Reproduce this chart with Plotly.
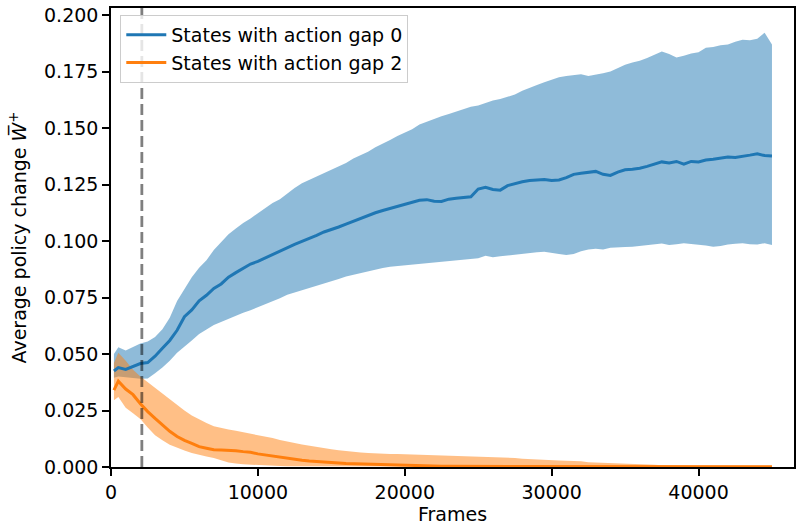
import plotly.graph_objects as go

# frames sampled along the x axis
frames = [200, 500] + list(range(1000, 45001, 500))

# states with action gap 0 (blue)
gap0_mean = [
    0.0425, 0.0440, 0.0432, 0.0445, 0.0458, 0.0462, 0.0490, 0.0525, 0.0560, 0.0605,
    0.0665, 0.0695, 0.0735, 0.0760, 0.0790, 0.0810, 0.0840, 0.0860, 0.0880, 0.0898,
    0.0910, 0.0925, 0.0940, 0.0958, 0.0972, 0.0985, 0.0998, 0.1010, 0.1025, 0.1040,
    0.1050, 0.1062, 0.1075, 0.1088, 0.1100, 0.1112, 0.1125, 0.1135, 0.1144, 0.1155,
    0.1165, 0.1172, 0.1180, 0.1183, 0.1176, 0.1175, 0.1185, 0.1189, 0.1192, 0.1196,
    0.1230, 0.1238, 0.1228, 0.1225, 0.1245, 0.1255, 0.1262, 0.1268, 0.1270, 0.1272,
    0.1268, 0.1270, 0.1280, 0.1295, 0.1300, 0.1303, 0.1308, 0.1295, 0.1290, 0.1305,
    0.1315, 0.1318, 0.1322, 0.1330, 0.1340, 0.1350, 0.1345, 0.1352, 0.1340, 0.1352,
    0.1350, 0.1358, 0.1362, 0.1368, 0.1372, 0.1370, 0.1374, 0.1380, 0.1386, 0.1378,
    0.1376,
]
gap0_upper = [
    0.0500, 0.0530, 0.0515, 0.0530, 0.0546, 0.0555, 0.0575, 0.0610, 0.0660, 0.0735,
    0.0790, 0.0840, 0.0882, 0.0915, 0.0960, 0.0995, 0.1030, 0.1055, 0.1080, 0.1100,
    0.1122, 0.1145, 0.1168, 0.1185, 0.1210, 0.1235, 0.1255, 0.1270, 0.1285, 0.1300,
    0.1315, 0.1330, 0.1345, 0.1365, 0.1380, 0.1395, 0.1415, 0.1430, 0.1447, 0.1465,
    0.1480, 0.1495, 0.1515, 0.1528, 0.1540, 0.1552, 0.1562, 0.1572, 0.1585, 0.1594,
    0.1600, 0.1610, 0.1622, 0.1628, 0.1638, 0.1648, 0.1665, 0.1676, 0.1690, 0.1702,
    0.1712, 0.1725, 0.1730, 0.1735, 0.1738, 0.1730, 0.1735, 0.1742, 0.1750, 0.1765,
    0.1780, 0.1790, 0.1798, 0.1810, 0.1825, 0.1838, 0.1828, 0.1812, 0.1820, 0.1830,
    0.1835, 0.1855, 0.1858, 0.1866, 0.1870, 0.1882, 0.1890, 0.1888, 0.1895, 0.1922,
    0.1870,
]
gap0_lower = [
    0.0395, 0.0400, 0.0399, 0.0395, 0.0391, 0.0392, 0.0415, 0.0440, 0.0470, 0.0505,
    0.0533, 0.0560, 0.0588, 0.0608, 0.0628, 0.0642, 0.0656, 0.0668, 0.0682, 0.0694,
    0.0708, 0.0720, 0.0733, 0.0747, 0.0762, 0.0775, 0.0785, 0.0795, 0.0803, 0.0812,
    0.0822, 0.0832, 0.0843, 0.0853, 0.0860, 0.0867, 0.0873, 0.0880, 0.0886, 0.0890,
    0.0893, 0.0897, 0.0900, 0.0903, 0.0906, 0.0908, 0.0912, 0.0915, 0.0918, 0.0921,
    0.0924, 0.0935, 0.0928, 0.0932, 0.0936, 0.0940, 0.0944, 0.0947, 0.0950, 0.0952,
    0.0946, 0.0942, 0.0938, 0.0942, 0.0955, 0.0962, 0.0966, 0.0962, 0.0970, 0.0972,
    0.0974, 0.0975, 0.0978, 0.0982, 0.0985, 0.0989, 0.0982, 0.0986, 0.0990, 0.0988,
    0.0984, 0.0980, 0.0975, 0.0978, 0.0985, 0.0988, 0.0990, 0.0986, 0.0984, 0.0990,
    0.0982,
]

# states with action gap 2 (orange)
gap2_mean = [
    0.0340, 0.0380, 0.0345, 0.0320, 0.0280, 0.0245, 0.0215, 0.0185, 0.0158, 0.0135,
    0.0118, 0.0105, 0.0090, 0.0083, 0.0076, 0.0075, 0.0074, 0.0072, 0.0068, 0.0065,
    0.0058, 0.0053, 0.0050, 0.0046, 0.0040, 0.0034, 0.0030, 0.0027, 0.0024, 0.0022,
    0.0020, 0.0018, 0.0016, 0.0015, 0.0014, 0.0012, 0.0010, 0.0009, 0.0008, 0.0007,
    0.0005, 0.0005, 0.0004, 0.0004, 0.0004, 0.0003, 0.0003, 0.0003, 0.0003, 0.0003,
    0.0003, 0.0003, 0.0002, 0.0002, 0.0002, 0.0002, 0.0002, 0.0002, 0.0002, 0.0002,
    0.0002, 0.0002, 0.0002, 0.0002, 0.0001, 0.0001, 0.0001, 0.0001, 0.0001, 0.0001,
    0.0001, 0.0001, 0.0001, 0.0001, 0.0001, 0.0001, 0.0001, 0.0001, 0.0001, 0.0001,
    0.0001, 0.0001, 0.0001, 0.0001, 0.0001, 0.0001, 0.0001, 0.0001, 0.0001, 0.0001,
    0.0001,
]
gap2_upper = [
    0.0460, 0.0505, 0.0470, 0.0430, 0.0400, 0.0375, 0.0350, 0.0325, 0.0300, 0.0272,
    0.0250, 0.0228, 0.0210, 0.0195, 0.0180, 0.0172, 0.0166, 0.0160, 0.0154, 0.0148,
    0.0141, 0.0134, 0.0128, 0.0120, 0.0112, 0.0106, 0.0100, 0.0094, 0.0088, 0.0082,
    0.0078, 0.0074, 0.0070, 0.0067, 0.0064, 0.0062, 0.0060, 0.0058, 0.0057, 0.0058,
    0.0057, 0.0055, 0.0054, 0.0055, 0.0053, 0.0052, 0.0052, 0.0050, 0.0049, 0.0048,
    0.0047, 0.0046, 0.0045, 0.0044, 0.0043, 0.0040, 0.0037, 0.0035, 0.0032, 0.0030,
    0.0030, 0.0029, 0.0028, 0.0027, 0.0025, 0.0021, 0.0020, 0.0019, 0.0019, 0.0018,
    0.0017, 0.0016, 0.0014, 0.0012, 0.0010, 0.0008, 0.0007, 0.0007, 0.0007, 0.0006,
    0.0006, 0.0006, 0.0006, 0.0006, 0.0006, 0.0007, 0.0006, 0.0006, 0.0005, 0.0005,
    0.0005,
]
gap2_lower = [
    0.0295, 0.0310, 0.0262, 0.0238, 0.0212, 0.0175, 0.0140, 0.0118, 0.0098, 0.0085,
    0.0073, 0.0062, 0.0053, 0.0046, 0.0040, 0.0030, 0.0020, 0.0015, 0.0012, 0.0010,
    0.0008, 0.0007, 0.0005, 0.0004, 0.0003, 0.0002, 0.0001, 0.0, 0.0, 0.0,
    0.0, 0.0, 0.0, 0.0, 0.0, 0.0, 0.0, 0.0, 0.0, 0.0,
    0.0, 0.0, 0.0, 0.0, 0.0, 0.0, 0.0, 0.0, 0.0, 0.0,
    0.0, 0.0, 0.0, 0.0, 0.0, 0.0, 0.0, 0.0, 0.0, 0.0,
    0.0, 0.0, 0.0, 0.0, 0.0, 0.0, 0.0, 0.0, 0.0, 0.0,
    0.0, 0.0, 0.0, 0.0, 0.0, 0.0, 0.0, 0.0, 0.0, 0.0,
    0.0, 0.0, 0.0, 0.0, 0.0, 0.0, 0.0, 0.0, 0.0, 0.0,
    0.0,
]

switch_frame = 2100
y_ticks = [0.0, 0.025, 0.05, 0.075, 0.1, 0.125, 0.15, 0.175, 0.2]
x_ticks = [0, 10000, 20000, 30000, 40000]

BLUE = '#1f77b4'
ORANGE = '#ff7f0e'
FONT = 'DejaVu Sans'
FS = 19

fig = go.Figure()

# shaded bands (orange drawn over blue)
fig.add_trace(go.Scatter(
    x=frames + frames[::-1], y=gap0_upper + gap0_lower[::-1],
    fill='toself', fillcolor='rgba(31,119,180,0.5)', line=dict(width=0),
    mode='lines', hoverinfo='skip', showlegend=False))
fig.add_trace(go.Scatter(
    x=frames + frames[::-1], y=gap2_upper + gap2_lower[::-1],
    fill='toself', fillcolor='rgba(255,127,14,0.5)', line=dict(width=0),
    mode='lines', hoverinfo='skip', showlegend=False))

fig.add_trace(go.Scatter(x=frames, y=gap0_mean, mode='lines',
                         line=dict(color=BLUE, width=3),
                         name='States with action gap 0'))
fig.add_trace(go.Scatter(x=frames, y=gap2_mean, mode='lines',
                         line=dict(color=ORANGE, width=3),
                         name='States with action gap 2'))

# vertical dashed marker
fig.add_shape(type='line', xref='x', yref='paper', x0=switch_frame, x1=switch_frame,
              y0=0, y1=1, line=dict(color='rgba(0,0,0,0.5)', width=2.8, dash='11px,5px'))

axis_common = dict(showline=True, linecolor='black', linewidth=1.5, mirror=True,
                   ticks='outside', ticklen=7, tickwidth=1.5, tickcolor='black',
                   showgrid=False, zeroline=False, automargin=False,
                   tickfont=dict(family=FONT, size=FS, color='black'))

fig.update_xaxes(range=[0, 46500], tickvals=x_ticks,
                 ticktext=[str(v) for v in x_ticks],
                 title=dict(text='Frames', font=dict(family=FONT, size=FS, color='black'),
                            standoff=6),
                 **axis_common)
fig.update_yaxes(range=[0, 0.2031], tickvals=y_ticks,
                 ticktext=[f'{v:.3f}' for v in y_ticks],
                 title=dict(text='Average policy change <i>W\u0305</i><sup>+</sup>',
                            font=dict(family=FONT, size=FS, color='black'),
                            standoff=12),
                 **axis_common)

fig.update_layout(
    width=796, height=525,
    margin=dict(l=111, r=2, t=8, b=58),
    plot_bgcolor='white', paper_bgcolor='white',
    font=dict(family=FONT, size=FS, color='black'),
    legend=dict(x=0.0136, y=0.985, xanchor='left', yanchor='top',
                bgcolor='rgba(255,255,255,0.8)', bordercolor='#cccccc', borderwidth=1,
                font=dict(family=FONT, size=FS, color='black'),
                tracegroupgap=0, itemwidth=40),
)

# page body has a default margin; remove it so the figure fills the window
fig.write_html("out.html", config={'displayModeBar': False},
               post_script="document.body.style.margin='0px';")
